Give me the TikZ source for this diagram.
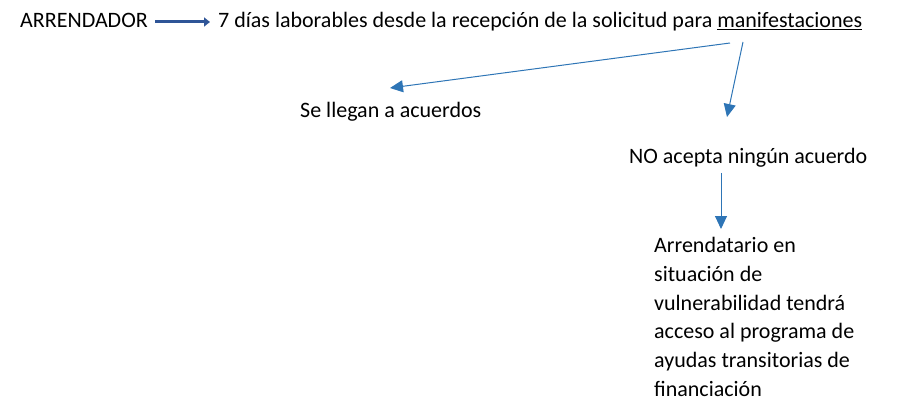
\documentclass[tikz,border=0pt]{standalone}
\usepackage{fontspec}
\setmainfont{Carlito}
\usetikzlibrary{arrows.meta}
\definecolor{thinblue}{HTML}{2E75B6}
\definecolor{thickblue}{HTML}{2F5597}
\begin{document}
\begin{tikzpicture}[x=1pt,y=-1pt,
  txt/.style={inner sep=0pt,anchor=base west,font=\fontsize{22}{28.7}\selectfont},
  thinarrow/.style={draw=thinblue,line width=1pt,-{Triangle[length=13pt,width=12pt]}},
  thickarrow/.style={draw=thickblue,line width=3pt,-{Triangle[length=6pt,width=9pt]}}]
\useasboundingbox (0,0) rectangle (900,417);
\node[txt] (arr) at (20,28) {ARRENDADOR};
\node[txt] (dias) at (218,28) {7 días laborables desde la recepción de la solicitud para \underline{manifestaciones}};
\node[txt] (acu) at (300,118) {Se llegan a acuerdos};
\node[txt] (no) at (629,164) {NO acepta ningún acuerdo};
\node[inner sep=0pt,anchor=north west,align=left,font=\fontsize{22}{28.8}\selectfont] (arrt) at (654,237)
  {Arrendatario en\\situación de\\vulnerabilidad tendrá\\acceso al programa de\\ayudas transitorias de\\financiación};
\coordinate (t1s) at (155,22);
\coordinate (t1e) at (210,22);
\coordinate (a1s) at (730,43);
\coordinate (a1e) at (390,88);
\coordinate (a2s) at (743,42);
\coordinate (a2e) at (727,117);
\coordinate (a3s) at (721,173);
\coordinate (a3e) at (721,229);
\draw[thickarrow] (t1s) -- (t1e);
\draw[thinarrow] (a1s) -- (a1e);
\draw[thinarrow] (a2s) -- (a2e);
\draw[thinarrow] (a3s) -- (a3e);
\end{tikzpicture}
\end{document}
